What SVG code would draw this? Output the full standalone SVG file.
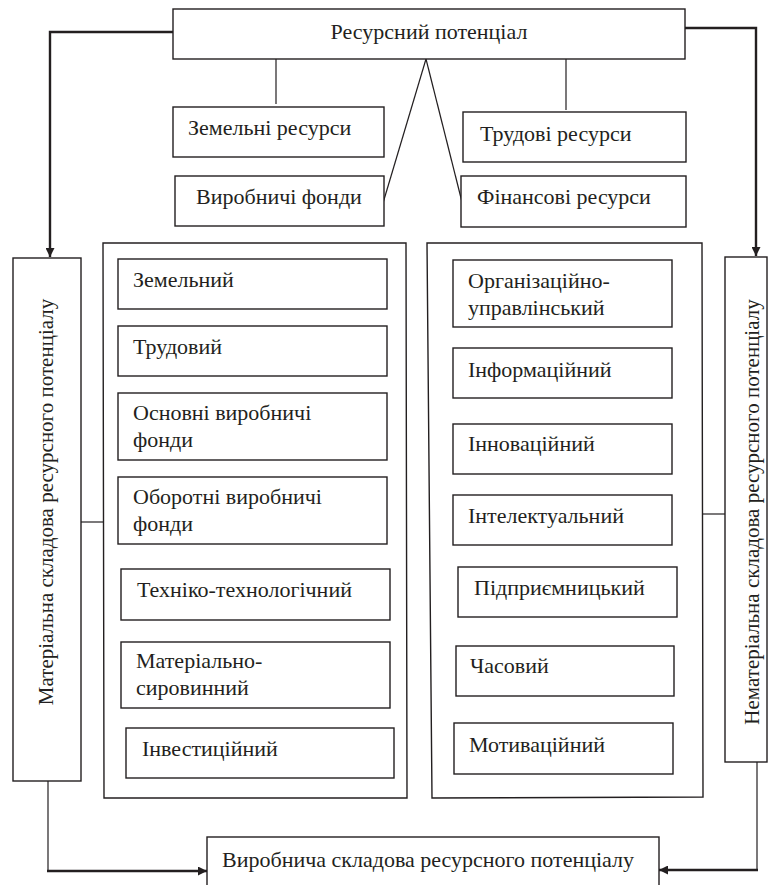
<svg xmlns="http://www.w3.org/2000/svg" width="771" height="885" viewBox="0 0 771 885" font-family="'Liberation Serif', 'DejaVu Serif', serif">
<defs>
<style>
.box{fill:#fff;stroke:#231f20;stroke-width:1.4}
.t{font-family:'Liberation Serif','DejaVu Serif',serif;font-size:22px;fill:#231f20}
.tv{font-family:'Liberation Serif','DejaVu Serif',serif;font-size:21px;fill:#231f20}
.ln{fill:none;stroke:#231f20;stroke-width:1.2}
.thk{fill:none;stroke:#231f20;stroke-width:2.4}
</style>
<marker id="ah" viewBox="0 0 10 10" refX="10" refY="5" markerWidth="11" markerHeight="9" markerUnits="userSpaceOnUse" orient="auto">
<path d="M0,0 L10,5 L0,10 z" fill="#231f20"/>
</marker>
</defs>
<rect width="771" height="885" fill="#fff"/>

<g id="connectors">
<polyline class="thk" points="173,32 50,32 50,257" marker-end="url(#ah)"/>
<polyline class="thk" points="685,28 756,28 756,256" marker-end="url(#ah)"/>
<line class="ln" x1="276" y1="59" x2="276" y2="104"/>
<line class="ln" x1="566" y1="59" x2="566" y2="110"/>
<line class="ln" x1="426" y1="59" x2="383" y2="203"/>
<line class="ln" x1="426" y1="59" x2="462" y2="202"/>
<line class="ln" x1="81" y1="522" x2="103" y2="522"/>
<line class="ln" x1="702" y1="514" x2="725" y2="514"/>
<polyline class="ln" points="48,781 48,871"/>
<line class="thk" x1="47" y1="871" x2="207" y2="871" marker-end="url(#ah)"/>
<polyline class="ln" points="757,762 757,870"/>
<line class="thk" x1="758" y1="870" x2="659" y2="870" marker-end="url(#ah)"/>
</g>

<g id="node-resource">
<rect class="box" x="173" y="9" width="512" height="50"/>
<text class="t" x="429" y="39" text-anchor="middle">Ресурсний потенціал</text>
</g>
<g id="node-land">
<rect class="box" x="173" y="107" width="211" height="50"/>
<text class="t" x="188" y="135">Земельні ресурси</text>
</g>
<g id="node-labor">
<rect class="box" x="463" y="112" width="223" height="50"/>
<text class="t" x="480" y="141">Трудові ресурси</text>
</g>
<g id="node-funds">
<rect class="box" x="175" y="176" width="209" height="50"/>
<text class="t" x="196" y="204">Виробничі фонди</text>
</g>
<g id="node-finance">
<rect class="box" x="461" y="176" width="225" height="51"/>
<text class="t" x="477" y="204">Фінансові ресурси</text>
</g>

<g id="node-material">
<rect class="box" x="13" y="258" width="68" height="523"/>
<text class="tv" transform="translate(53,502) rotate(-90)" text-anchor="middle">Матеріальна складова ресурсного потенціалу</text>
</g>
<g id="node-nonmaterial">
<rect class="box" x="725" y="257" width="42" height="505"/>
<text class="tv" transform="translate(759,512) rotate(-90)" text-anchor="middle">Нематеріальна складова ресурсного потенціалу</text>
</g>

<g id="node-left-group">
<polygon class="box" points="103,243 406,243 407,798 104,798"/>
</g>
<g id="node-l1"><rect class="box" x="118" y="259" width="269" height="50"/><text class="t" x="133" y="287">Земельний</text></g>
<g id="node-l2"><rect class="box" x="118" y="326" width="269" height="50"/><text class="t" x="133" y="354">Трудовий</text></g>
<g id="node-l3"><rect class="box" x="118" y="393" width="269" height="67"/><text class="t" x="133" y="420">Основні виробничі</text><text class="t" x="133" y="447">фонди</text></g>
<g id="node-l4"><rect class="box" x="118" y="477" width="269" height="67"/><text class="t" x="133" y="504">Оборотні виробничі</text><text class="t" x="133" y="531">фонди</text></g>
<g id="node-l5"><rect class="box" x="121" y="569" width="269" height="51"/><text class="t" x="137" y="597">Техніко-технологічний</text></g>
<g id="node-l6"><rect class="box" x="121" y="642" width="269" height="66"/><text class="t" x="136" y="668">Матеріально-</text><text class="t" x="136" y="695">сировинний</text></g>
<g id="node-l7"><rect class="box" x="126" y="728" width="268" height="50"/><text class="t" x="142" y="756">Інвестиційний</text></g>

<g id="node-right-group">
<polygon class="box" points="427,243 702,243 703,797 432,798"/>
</g>
<g id="node-r1"><rect class="box" x="453" y="260" width="219" height="67"/><text class="t" x="468" y="288">Організаційно-</text><text class="t" x="468" y="315">управлінський</text></g>
<g id="node-r2"><rect class="box" x="453" y="348" width="219" height="50"/><text class="t" x="468" y="377">Інформаційний</text></g>
<g id="node-r3"><rect class="box" x="453" y="424" width="219" height="50"/><text class="t" x="468" y="451">Інноваційний</text></g>
<g id="node-r4"><rect class="box" x="453" y="495" width="219" height="50"/><text class="t" x="468" y="523">Інтелектуальний</text></g>
<g id="node-r5"><rect class="box" x="458" y="567" width="219" height="50"/><text class="t" x="474" y="595">Підприємницький</text></g>
<g id="node-r6"><rect class="box" x="456" y="646" width="218" height="50"/><text class="t" x="470" y="673">Часовий</text></g>
<g id="node-r7"><rect class="box" x="454" y="723" width="219" height="51"/><text class="t" x="469" y="752">Мотиваційний</text></g>

<g id="node-production">
<rect class="box" x="207" y="837" width="452" height="60"/>
<text class="t" x="222" y="867">Виробнича складова ресурсного потенціалу</text>
</g>
</svg>
